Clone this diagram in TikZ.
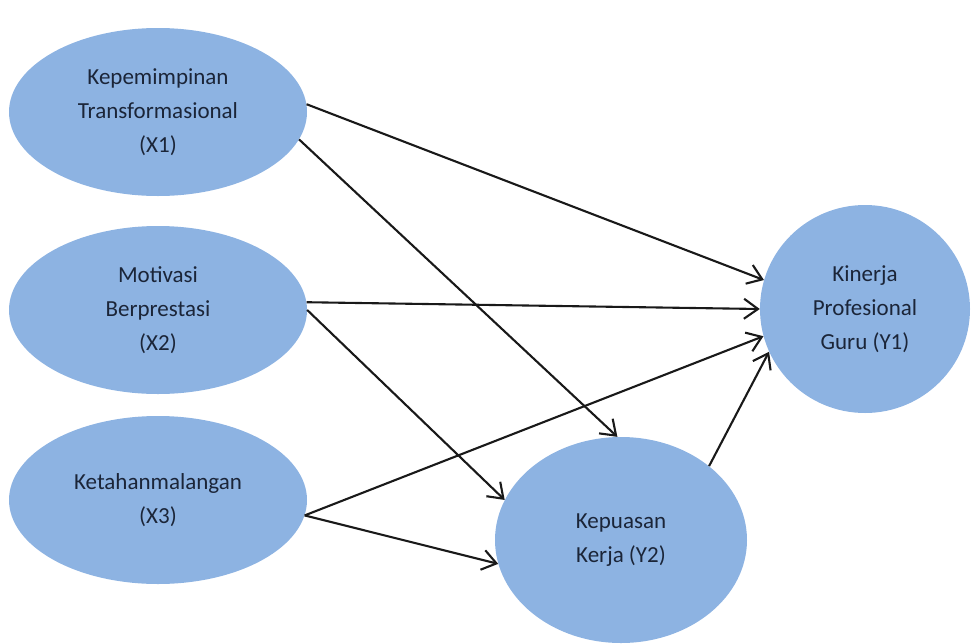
\documentclass[tikz,border=0pt]{standalone}
\usepackage{fontspec}
\setmainfont{Carlito}
\usetikzlibrary{arrows.meta,shapes.geometric}
\definecolor{bubble}{HTML}{8DB3E2}
\definecolor{ink}{HTML}{1B2538}
\tikzset{
  var/.style={ellipse, fill=bubble, draw=none, inner sep=0pt, align=center,
    text=ink, font=\fontsize{23}{34}\selectfont},
  link/.style={draw=black!90, line width=2.1pt,
    -{Straight Barb[length=14pt,width=20pt,line width=2.1pt]}}
}
\begin{document}
\begin{tikzpicture}[x=1pt,y=-1pt]
\useasboundingbox (0,0) rectangle (975,643);
\node[var, minimum width=298pt, minimum height=168pt] (x1) at (158,112)
  {Kepemimpinan\\Transformasional\\(X1)};
\node[var, minimum width=298pt, minimum height=168pt] (x2) at (158,310)
  {Motivasi\\Berprestasi\\(X2)};
\node[var, minimum width=298pt, minimum height=168pt] (x3) at (158,500)
  {Ketahanmalangan\\(X3)};
\node[var, minimum width=210pt, minimum height=208pt] (y1) at (865,309)
  {Kinerja\\Profesional\\Guru (Y1)};
\node[var, minimum width=252pt, minimum height=206pt] (y2) at (621,540)
  {Kepuasan\\Kerja (Y2)};
\draw[link] (x1.3.5) -- (y1.164);
\draw[link] (x1.-11.5) -- (y2.92);
\draw[link] (x2.3) -- (y1.180);
\draw[link] (x2.0) -- (y2.161);
\draw[link] (x3.-6) -- (y1.195);
\draw[link] (x3.-6) -- (y2.191);
\draw[link] (y2.40) -- (y1.204);
\end{tikzpicture}
\end{document}
